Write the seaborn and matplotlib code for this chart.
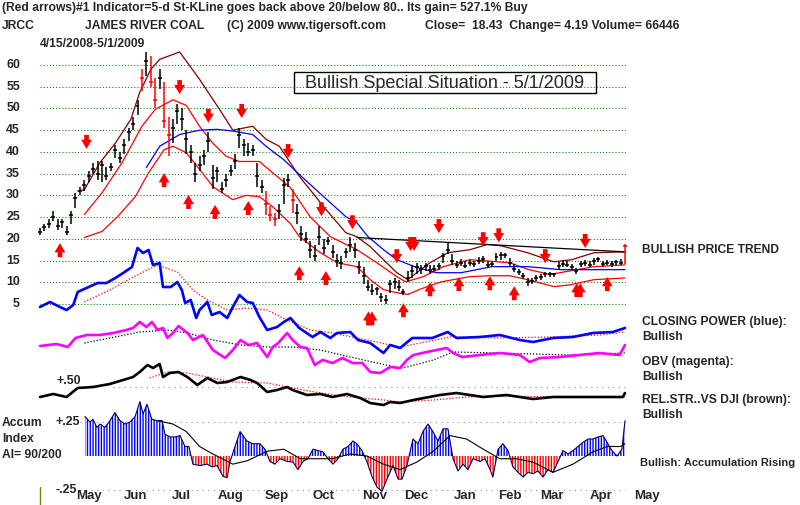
import matplotlib
matplotlib.use("Agg")
import matplotlib.pyplot as plt
import matplotlib.patches as mpatches
import matplotlib.transforms as mtransforms
import seaborn as sns

sns.set_theme(style="white")
plt.rcParams["font.family"] = ["Liberation Sans", "DejaVu Sans"]

# ---------------- data (trading-day index 0 = 4/15/2008, 264 = 5/1/2009) ----------------
bar_days = list(range(0, 265, 2))
closes = [21.5, 22.8, 23.5, 25.0, 23.0, 23.8, 21.5, 25.5, 29.5, 31.0,
          32.5, 34.5, 36.0, 35.0, 37.0, 34.5, 36.5, 40.5, 38.5, 41.5,
          44.5, 46.5, 50.5, 57.0, 61.0, 56.0, 52.0, 57.0, 47.0, 44.0,
          45.5, 49.5, 47.5, 43.0, 40.0, 35.0, 37.0, 39.0, 42.5, 34.0,
          35.5, 31.5, 33.5, 35.5, 38.0, 44.0, 41.5, 40.0, 40.5, 34.5,
          32.0, 28.0, 25.5, 24.5, 26.5, 32.5, 33.5, 29.0, 26.0, 21.0,
          20.0, 17.5, 16.0, 20.5, 18.0, 19.5, 17.0, 15.0, 14.5, 17.0,
          18.5, 17.5, 13.5, 11.5, 9.0, 8.0, 8.5, 6.5, 6.0, 9.5,
          10.0, 9.0, 7.8, 11.0, 12.5, 13.5, 13.0, 13.8, 12.8, 13.0,
          13.8, 16.0, 17.5, 15.0, 14.0, 14.5, 13.8, 14.5, 14.3, 15.0,
          15.3, 14.0, 14.3, 15.8, 16.2, 16.3, 14.5, 13.0, 12.3, 11.5,
          10.0, 10.3, 11.0, 11.2, 11.8, 11.9, 11.8, 13.8, 14.3, 14.0,
          13.4, 12.6, 14.2, 14.5, 14.0, 14.8, 15.3, 14.3, 14.5, 14.2,
          14.6, 14.5, 18.4]
highs = [22.5, 23.5, 24.5, 26.5, 24.5, 24.5, 23.0, 26.5, 30.5, 32.0,
         33.5, 35.5, 37.5, 38.0, 38.0, 36.5, 37.5, 41.5, 40.0, 43.0,
         45.5, 48.0, 52.0, 59.0, 63.0, 62.0, 57.0, 59.0, 56.0, 48.0,
         47.5, 51.0, 50.0, 45.0, 41.5, 37.5, 39.0, 40.5, 44.5, 37.0,
         36.5, 33.0, 35.0, 37.0, 39.5, 45.5, 43.0, 42.0, 41.5, 37.5,
         33.5, 31.0, 27.5, 26.0, 28.0, 34.0, 35.0, 31.5, 28.0, 23.0,
         21.5, 19.5, 18.5, 23.0, 20.0, 20.5, 18.5, 16.5, 16.0, 18.0,
         20.5, 19.0, 15.0, 13.5, 10.5, 9.5, 9.0, 7.5, 7.0, 10.5,
         11.0, 10.5, 8.5, 12.5, 14.0, 14.5, 14.0, 14.5, 14.0, 14.0,
         14.5, 16.8, 19.0, 16.5, 15.0, 15.3, 14.8, 15.2, 15.0, 15.8,
         16.0, 14.8, 15.0, 16.8, 17.0, 16.8, 15.5, 14.2, 13.0, 12.2,
         11.0, 11.0, 11.6, 11.8, 12.3, 12.4, 12.2, 14.6, 15.2, 14.8,
         14.2, 13.2, 15.0, 15.2, 14.8, 15.6, 15.8, 15.0, 15.2, 14.9,
         15.2, 15.3, 18.7]
lows = [20.8, 21.8, 22.5, 24.0, 22.0, 22.5, 20.8, 23.5, 27.0, 30.0,
        31.0, 33.0, 35.0, 33.5, 33.0, 33.5, 35.5, 38.5, 37.5, 39.5,
        42.5, 45.0, 48.5, 54.0, 57.5, 55.0, 50.0, 54.5, 45.5, 39.0,
        42.0, 46.5, 45.0, 39.5, 37.5, 33.0, 35.5, 37.0, 40.0, 31.5,
        33.0, 30.5, 32.0, 34.5, 36.0, 41.0, 39.0, 39.0, 39.0, 32.0,
        30.5, 25.5, 24.0, 23.0, 24.5, 28.0, 32.0, 26.0, 23.5, 19.5,
        19.0, 15.5, 15.0, 18.5, 16.5, 18.5, 15.5, 13.5, 13.0, 15.5,
        17.0, 15.5, 12.0, 9.5, 8.0, 7.0, 7.0, 5.5, 5.0, 7.5,
        8.5, 8.0, 7.0, 10.0, 11.0, 12.0, 12.0, 12.5, 12.0, 12.5,
        12.8, 14.5, 16.5, 14.0, 13.3, 13.8, 13.2, 13.8, 13.6, 14.2,
        14.5, 13.3, 13.5, 15.0, 15.2, 15.5, 13.8, 12.4, 11.7, 10.8,
        9.2, 9.6, 10.4, 10.6, 11.2, 11.3, 11.2, 13.0, 13.6, 13.4,
        12.8, 12.0, 13.6, 13.8, 13.4, 14.0, 14.6, 13.6, 13.9, 13.6,
        14.0, 13.9, 14.3]
red_bar_days = [46, 50, 52, 56, 58, 102, 104, 106, 114, 264]

brown_days = [17, 20, 27, 34, 41, 45, 50, 54, 63, 72, 81, 87, 96, 102, 108, 117, 128,
              138, 143, 149, 155, 161, 166, 170, 176, 184, 194, 202, 208, 220, 232, 240, 250, 264]
brown_vals = [31.0, 31.3, 37.5, 42.0, 47.5, 53.7, 59.0, 61.3, 63.0, 56.7, 49.8, 45.0, 45.9, 42.9,
              41.3, 34.4, 27.4, 21.4, 20.5, 18.2, 15.2, 12.2, 10.6, 12.2, 14.5, 16.8, 17.5, 18.7,
              18.4, 16.8, 14.7, 15.2, 16.8, 17.0]
ured_days = [20, 28, 37, 46, 52, 60, 66, 72, 78, 84, 90, 99, 105, 113, 122, 131, 143, 152,
             161, 165, 173, 182, 194, 212, 220, 230, 239, 250, 264]
ured_vals = [25.6, 30.6, 37.5, 45.9, 49.8, 52.0, 50.7, 45.9, 42.0, 39.0, 37.8, 37.8, 35.2, 31.8,
             25.0, 20.5, 17.5, 14.5, 11.3, 10.1, 11.3, 13.6, 15.2, 14.5, 13.0, 11.8, 12.6, 13.6, 14.0]
lred_days = [20, 28, 35, 43, 49, 56, 60, 66, 72, 78, 87, 93, 99, 105, 113, 117, 126, 134, 143,
             149, 155, 161, 166, 172, 181, 194, 203, 212, 220, 232, 239, 250, 264]
lred_vals = [20.3, 21.7, 25.1, 29.7, 35.2, 40.5, 41.3, 39.8, 36.0, 32.0, 29.0, 30.0, 29.7, 27.4,
             23.5, 20.5, 17.0, 14.5, 13.6, 10.6, 8.3, 7.6, 7.2, 8.5, 10.1, 11.3, 11.5, 11.5, 10.6,
             9.0, 9.4, 10.6, 11.0]
blue_days = [48, 54, 63, 72, 80, 87, 96, 102, 110, 117, 128, 138, 143, 148, 155, 161, 170, 179,
             190, 204, 220, 235, 264]
blue_vals = [36.4, 41.3, 44.0, 45.0, 45.2, 44.8, 44.0, 41.3, 38.2, 34.8, 29.7, 25.1, 23.7, 20.5,
             17.5, 15.2, 13.4, 12.2, 12.2, 13.6, 13.6, 12.9, 12.9]
trend_days = [143, 264]
trend_vals = [20.3, 17.0]

up_days = [9, 56, 67, 79, 94, 117, 129, 164, 176, 189, 203, 214, 256]
up_tips = [19.0, 35.1, 30.1, 27.8, 28.7, 13.7, 12.6, 5.2, 10.0, 11.2, 11.4, 9.1, 11.2]
dbl_up_days = [149, 243]
dbl_up_tips = [3.3, 9.8]
down_days = [21, 63, 76, 91, 112, 127, 141, 161, 180, 200, 207, 228, 246]
down_tips = [40.7, 53.3, 46.7, 47.8, 38.6, 25.2, 22.2, 14.4, 21.3, 18.3, 19.2, 14.4, 17.9]
dbl_down_days = [168]
dbl_down_tips = [17.2]

cp_days = [0, 4.5, 9, 12, 15, 17, 21, 26, 30, 34, 37.5, 41.5, 44, 46.5, 49, 51, 54, 55.5, 59, 62,
           64, 65.5, 68, 70.5, 72, 75.5, 77.5, 81, 84.5, 87, 90, 93.5, 96, 99, 102.5, 107, 110,
           113, 117, 123, 126.5, 131, 134, 140, 143.5, 149, 155, 158, 162.5, 168, 177, 184, 188,
           198.5, 207.5, 216.5, 222.5, 231.5, 240.5, 249.5, 258.5, 264]
cp_vals = [53, 58, 53, 50, 55, 68, 72, 77, 77, 82, 87, 93, 112, 107, 110, 95, 97, 73, 73, 78,
           70, 57, 60, 42, 50, 58, 45, 48, 42, 53, 65, 58, 57, 43, 30, 33, 38, 42, 32, 23,
           28, 22, 27, 28, 20, 17, 7, 15, 12, 22, 22, 28, 22, 23, 25, 20, 18, 22, 23, 27, 28, 32]
cp_ma_days = [20, 31.5, 42, 53, 62, 69, 75.5, 84.5, 93.5, 102.5, 111.5, 122, 132, 147.5, 162.5,
              185, 207.5, 230, 252.5, 264]
cp_ma_vals = [58, 70, 83, 95, 88, 70, 60, 50, 52, 50, 40, 30, 27, 20, 13, 23, 22, 23, 25, 28]

obv_days = [0, 7.5, 12.5, 16, 21, 27, 33, 39, 42, 45, 48, 50.5, 53, 55.5, 57.5, 60, 62.5, 66.5,
            69, 73.5, 78, 83.5, 87, 90.5, 94, 98, 102.5, 105, 107.5, 111.5, 114, 117.5, 120.5,
            124, 127.5, 132, 136.5, 141, 145.5, 149, 153.5, 158, 162.5, 165.5, 168.5, 174.5,
            183.5, 186.5, 190.5, 198.5, 207.5, 216.5, 221, 225.5, 234.5, 243.5, 252.5, 261.5, 264]
obv_vals = [34, 36, 33, 42, 45, 45, 47, 50, 52, 58, 53, 58, 50, 52, 42, 47, 54, 47, 40, 45,
            30, 22, 30, 40, 35, 37, 23, 33, 37, 47, 40, 33, 32, 15, 20, 17, 22, 17, 17, 8,
            7, 13, 12, 20, 25, 28, 32, 27, 23, 25, 27, 25, 18, 22, 23, 25, 27, 25, 35]
obv_ma_days = [20, 31.5, 45, 57.5, 66.5, 78, 90.5, 102.5, 114, 126.5, 140, 152, 162.5, 165.5,
               177.5, 186.5, 207.5, 238, 264]
obv_ma_vals = [37, 42, 48, 50, 47, 40, 35, 33, 33, 30, 23, 17, 12, 13, 20, 28, 27, 25, 27]

rs_days = [0, 6, 12, 17, 24, 31.5, 37.5, 42, 45, 48.5, 51, 54, 55.5, 58.5, 62.5, 66.5, 71, 75.5,
           80, 84.5, 90.5, 95, 98, 102.5, 107, 111.5, 114, 120.5, 126.5, 132, 138.5, 144.5, 149,
           155, 158, 162.5, 168.5, 180.5, 188, 200, 210.5, 222.5, 231.5, 243.5, 258.5, 263, 264]
rs_vals = [0.45, 0.465, 0.45, 0.495, 0.50, 0.515, 0.535, 0.55, 0.575, 0.61, 0.595, 0.615, 0.55,
           0.57, 0.575, 0.55, 0.51, 0.545, 0.52, 0.525, 0.55, 0.535, 0.52, 0.475, 0.485, 0.50,
           0.485, 0.46, 0.465, 0.45, 0.465, 0.445, 0.42, 0.41, 0.425, 0.42, 0.435, 0.46, 0.47,
           0.45, 0.46, 0.44, 0.45, 0.45, 0.45, 0.45, 0.47]
rs_ma_days = [49.5, 57.5, 66.5, 75.5, 87, 102.5, 114, 126.5, 140, 155, 162.5, 177.5, 192.5,
              207.5, 238, 264]
rs_ma_vals = [0.545, 0.575, 0.57, 0.55, 0.525, 0.52, 0.495, 0.47, 0.45, 0.435, 0.425, 0.435,
              0.45, 0.455, 0.45, 0.45]

ai_days = [20.3, 22.6, 23.9, 25.7, 27.1, 29.3, 31.6, 33.8, 36.1, 38.4, 40.6, 42.9, 45.1, 46.5,
           48.3, 50.5, 52.8, 55.1, 56.4, 58.7, 60.9, 63.2, 65.4, 67.2, 69, 72.2, 75.4, 77.6, 79.9,
           82.6, 84.4, 85.7, 88, 90.3, 93.4, 96.1, 99.3, 101.5, 103.8, 106, 108.3, 111.5, 114.2,
           116.4, 118.7, 120.9, 123.2, 125.5, 127.7, 130, 132.2, 134.5, 136.7, 139, 141.2, 143,
           145.3, 147.6, 149.8, 152.1, 154.3, 156.6, 159.3, 161.6, 163.4, 165.6, 168.3, 170.6,
           172.8, 175.1, 177.3, 179.6, 181.9, 184.1, 186.4, 188.6, 190.9, 193.1, 195.4, 198.6,
           200.8, 203.1, 204.4, 206.7, 208.9, 211.2, 213.4, 215.7, 218, 220.2, 222.5, 224.7, 227,
           229.2, 231.5, 233.8, 236, 238.3, 240.5, 242.8, 245, 247.3, 249.5, 251.8, 254.1, 255.9,
           258.1, 260.4, 262.6, 264]
ai_vals = [0.29, 0.25, 0.27, 0.21, 0.235, 0.21, 0.26, 0.32, 0.26, 0.235, 0.25, 0.29, 0.40, 0.31,
           0.38, 0.27, 0.26, 0.26, 0.16, 0.14, 0.14, 0.15, 0.07, 0.07, -0.06, -0.07, -0.06, -0.08,
           -0.07, -0.15, -0.16, -0.045, 0.07, 0.18, 0.11, 0.09, 0.09, 0.05, -0.04, -0.06, -0.02,
           -0.04, -0.045, -0.10, -0.04, -0.02, 0.05, 0.04, 0.03, -0.02, -0.06, -0.02, 0.05, 0.07,
           0.11, 0.09, 0.04, -0.045, -0.15, -0.23, -0.26, -0.17, -0.07, -0.17, -0.17, -0.07,
           0.125, 0.09, 0.18, 0.235, 0.18, 0.11, 0.20, 0.20, -0.02, -0.11, -0.06, -0.10, -0.02,
           -0.04, -0.02, -0.10, -0.155, 0.05, 0.09, 0.04, -0.08, -0.12, -0.155, -0.12, -0.13,
           -0.11, -0.155, -0.10, -0.12, -0.04, 0.04, 0.015, 0.04, 0.07, 0.10, 0.125, 0.125, 0.14,
           0.15, 0.10, 0.04, 0.0, 0.05, 0.26]
ai_ma_days = [53, 60, 66, 72, 78, 87, 93.5, 102.5, 110, 117.5, 125, 132, 140, 147.5, 155, 162.5,
              170, 177.5, 185, 192.5, 200, 207.5, 215, 222.5, 231.5, 240.5, 249.5, 256, 262, 264]
ai_ma_vals = [0.26, 0.235, 0.18, 0.07, 0.015, -0.06, -0.035, 0.035, 0.05, -0.02, -0.02, -0.02,
              0.015, 0.0, -0.06, -0.10, -0.045, 0.035, 0.15, 0.125, 0.05, -0.02, -0.02, -0.045,
              -0.12, -0.06, 0.03, 0.07, 0.07, 0.09]

price_ticks = [60, 55, 50, 45, 40, 35, 30, 25, 20, 15, 10, 5]
month_starts = [12, 33, 54, 76, 97, 118, 141, 160, 182, 202, 221, 243, 264]
month_labels = ["May", "Jun", "Jul", "Aug", "Sep", "Oct", "Nov", "Dec",
                "Jan", "Feb", "Mar", "Apr", "May"]

# ---------------- layout (pixel geometry of the original screen) ----------------
W, H = 800, 505
PX_DAY, X0 = 2.216, 40
XLIM = (-X0 / PX_DAY, (W - X0) / PX_DAY)
fig = plt.figure(figsize=(W / 100, H / 100), dpi=100)
fig.patch.set_facecolor("white")


def overlay(v_a, px_a, v_b, px_b):
    ax = fig.add_axes([0, 0, 1, 1], facecolor="none")
    k = (v_b - v_a) / (px_b - px_a)
    ax.set_ylim(v_a + (H - px_a) * k, v_a - px_a * k)
    ax.set_xlim(*XLIM)
    ax.axis("off")
    return ax


def ftext(x, y, s, **kw):
    kw.setdefault("fontsize", 8.7)
    kw.setdefault("fontweight", "bold")
    fig.text(x / W, 1 - y / H, s, va="center", **kw)


BOLD = dict(fontsize=8.9, fontweight="bold")

# ---------------- price panel ----------------
axp = overlay(60, 65, 5, 304)
axp.hlines(price_ticks, 0, 265, colors="#008000", lw=0.75, linestyles=(0, (1, 2)))
sns.lineplot(x=brown_days, y=brown_vals, ax=axp, color="#800000", lw=0.9, estimator=None, sort=False)
sns.lineplot(x=ured_days, y=ured_vals, ax=axp, color="#ff0000", lw=0.9, estimator=None, sort=False)
sns.lineplot(x=lred_days, y=lred_vals, ax=axp, color="#ff0000", lw=0.9, estimator=None, sort=False)
sns.lineplot(x=blue_days, y=blue_vals, ax=axp, color="#0000ff", lw=0.9, estimator=None, sort=False)
sns.lineplot(x=trend_days, y=trend_vals, ax=axp, color="black", lw=0.9, estimator=None, sort=False)

bar_cols = ["#ff0000" if d in red_bar_days else "black" for d in bar_days]
axp.vlines(bar_days, lows, highs, colors=bar_cols, lw=1.1)
axp.hlines(closes, [d - 0.9 for d in bar_days], [d + 0.9 for d in bar_days], colors=bar_cols, lw=1.1)

arrow_style = dict(arrowstyle="simple,head_length=0.55,head_width=0.65,tail_width=0.28",
                   fc="#ff0000", ec="#ff0000", lw=0, shrinkA=0, shrinkB=0, mutation_scale=12)


def arrow(d, tip, up):
    axp.annotate("", xy=(d, tip), xytext=(0, -14 if up else 14), textcoords="offset pixels",
                 arrowprops=arrow_style)


for d, t in zip(up_days, up_tips):
    arrow(d, t, True)
for d, t in zip(down_days, down_tips):
    arrow(d, t, False)
for d, t in zip(dbl_up_days, dbl_up_tips):
    arrow(d - 0.8, t, True)
    arrow(d + 0.8, t, True)
for d, t in zip(dbl_down_days, dbl_down_tips):
    arrow(d - 0.8, t, False)
    arrow(d + 0.8, t, False)

ytr = mtransforms.blended_transform_factory(fig.transFigure, axp.transData)
for v in price_ticks:
    axp.text(20 / W, v, str(v), transform=ytr, ha="right", va="center", **BOLD)

# ---------------- closing power ----------------
axc = overlay(0, 360, 100, 260)
sns.lineplot(x=cp_ma_days, y=cp_ma_vals, ax=axc, color="#ff0000", lw=0.9, ls=(0, (1, 1.5)),
             estimator=None, sort=False)
sns.lineplot(x=cp_days, y=cp_vals, ax=axc, color="#0000ff", lw=1.9, estimator=None, sort=False)

# ---------------- OBV ----------------
axo = overlay(0, 380, 100, 280)
sns.lineplot(x=obv_ma_days, y=obv_ma_vals, ax=axo, color="black", lw=0.9, ls=(0, (1, 1.5)),
             estimator=None, sort=False)
sns.lineplot(x=obv_days, y=obv_vals, ax=axo, color="#ff00ff", lw=1.9, estimator=None, sort=False)

# ---------------- relative strength ----------------
axr = overlay(0.5, 387, 0.6, 367)
axr.hlines([0.5], 33, 264, colors="#909090", lw=0.8, linestyles=(0, (1, 4)))
sns.lineplot(x=rs_ma_days, y=rs_ma_vals, ax=axr, color="#ff0000", lw=0.9, ls=(0, (1, 1.5)),
             estimator=None, sort=False)
sns.lineplot(x=rs_days, y=rs_vals, ax=axr, color="black", lw=1.9, estimator=None, sort=False)
axr.text(57 / W, 0.5, "+.50", transform=mtransforms.blended_transform_factory(fig.transFigure, axr.transData),
         ha="left", va="bottom", **BOLD)

# ---------------- accumulation index ----------------
axa = overlay(0, 456, 0.25, 422)
axa.hlines([0.25, -0.25], 18, 264, colors="#909090", lw=0.8, linestyles=(0, (1, 4)))
pos = [v >= 0 for v in ai_vals]
neg = [v <= 0 for v in ai_vals]
with plt.rc_context({"hatch.color": "#0000ff", "hatch.linewidth": 1.0}):
    axa.fill_between(ai_days, 0, ai_vals, where=pos, interpolate=True, facecolor="none",
                     edgecolor="#0000ff", hatch="||||||", linewidth=0)
with plt.rc_context({"hatch.color": "#ff0000", "hatch.linewidth": 1.0}):
    axa.fill_between(ai_days, 0, ai_vals, where=neg, interpolate=True, facecolor="none",
                     edgecolor="#ff0000", hatch="||||||", linewidth=0)
sns.lineplot(x=ai_days, y=ai_vals, ax=axa, color="#000060", lw=0.8, estimator=None, sort=False)
sns.lineplot(x=ai_ma_days, y=ai_ma_vals, ax=axa, color="black", lw=0.8, estimator=None, sort=False)
atr = mtransforms.blended_transform_factory(fig.transFigure, axa.transData)
axa.text(55 / W, 0.25, "+.25", transform=atr, ha="left", va="center", **BOLD)
axa.text(55 / W, -0.25, "-.25", transform=atr, ha="left", va="center", **BOLD)

# month labels
mtr = mtransforms.blended_transform_factory(axa.transData, fig.transFigure)
for m, lab in zip(month_starts, month_labels):
    axa.text(m + 10, 1 - 496 / H, lab, transform=mtr, ha="center", va="center", fontsize=9.5,
             fontweight="bold")
fig.add_artist(plt.Line2D([39.5 / W, 39.5 / W], [0, 1 - 487 / H], color="#808000", lw=1))

# ---------------- header / side texts ----------------
ftext(2, 8, "(Red arrows)#1 Indicator=5-d St-KLine goes back above 20/below 80.. Its gain= 527.1% Buy")
ftext(2, 26, "JRCC")
ftext(85, 26, "JAMES RIVER COAL")
ftext(227, 26, "(C) 2009 www.tigersoft.com")
ftext(425, 26, "Close=  18.43  Change= 4.19 Volume= 66446")
ftext(40, 44, "4/15/2008-5/1/2009")

fig.add_artist(mpatches.Rectangle((294 / W, 1 - 93 / H), 302 / W, 21 / H, transform=fig.transFigure,
                                  fill=False, ec="black", lw=1))
ftext(445, 83, "Bullish Special Situation - 5/1/2009", ha="center", fontsize=13, fontweight="normal")

ftext(642, 250, "BULLISH PRICE TREND")
ftext(642, 322, "CLOSING POWER (blue):")
ftext(642, 337, "Bullish")
ftext(642, 362, "OBV (magenta):")
ftext(642, 377, "Bullish")
ftext(642, 400, "REL.STR..VS DJI (brown):")
ftext(642, 415, "Bullish")
ftext(640, 463, "Bullish: Accumulation Rising", fontsize=8.0)
ftext(2, 423, "Accum")
ftext(2, 439, "Index")
ftext(2, 455, "AI= 90/200")

fig.savefig("out.png", dpi=100, facecolor="white")
